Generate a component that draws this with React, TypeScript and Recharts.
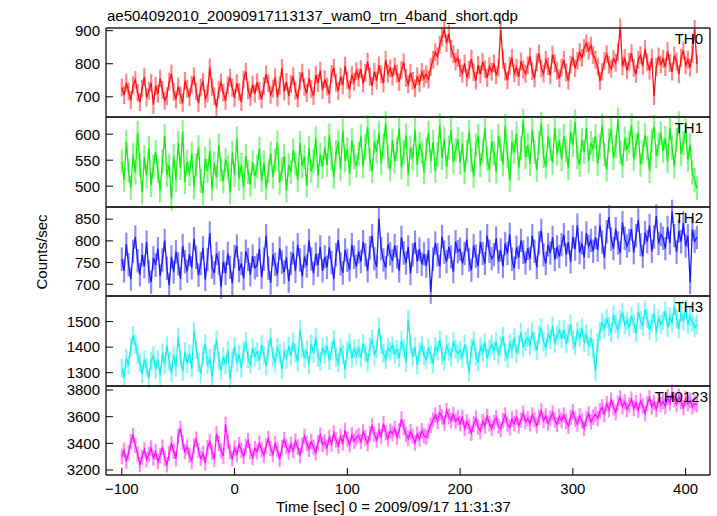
import React from "react";
import { LineChart, Line, XAxis, YAxis, ErrorBar } from "recharts";

// bin centres [sec], one row = 30 s
const times = [
  -100, -98, -96, -94, -92, -90, -88, -86, -84, -82, -80, -78, -76, -74, -72,
  -70, -68, -66, -64, -62, -60, -58, -56, -54, -52, -50, -48, -46, -44, -42,
  -40, -38, -36, -34, -32, -30, -28, -26, -24, -22, -20, -18, -16, -14, -12,
  -10, -8, -6, -4, -2, 0, 2, 4, 6, 8, 10, 12, 14, 16, 18,
  20, 22, 24, 26, 28, 30, 32, 34, 36, 38, 40, 42, 44, 46, 48,
  50, 52, 54, 56, 58, 60, 62, 64, 66, 68, 70, 72, 74, 76, 78,
  80, 82, 84, 86, 88, 90, 92, 94, 96, 98, 100, 102, 104, 106, 108,
  110, 112, 114, 116, 118, 120, 122, 124, 126, 128, 130, 132, 134, 136, 138,
  140, 142, 144, 146, 148, 150, 152, 154, 156, 158, 160, 162, 164, 166, 168,
  170, 172, 174, 176, 178, 180, 182, 184, 186, 188, 190, 192, 194, 196, 198,
  200, 202, 204, 206, 208, 210, 212, 214, 216, 218, 220, 222, 224, 226, 228,
  230, 232, 234, 236, 238, 240, 242, 244, 246, 248, 250, 252, 254, 256, 258,
  260, 262, 264, 266, 268, 270, 272, 274, 276, 278, 280, 282, 284, 286, 288,
  290, 292, 294, 296, 298, 300, 302, 304, 306, 308, 310, 312, 314, 316, 318,
  320, 322, 324, 326, 328, 330, 332, 334, 336, 338, 340, 342, 344, 346, 348,
  350, 352, 354, 356, 358, 360, 362, 364, 366, 368, 370, 372, 374, 376, 378,
  380, 382, 384, 386, 388, 390, 392, 394, 396, 398, 400, 402, 404, 406, 408,
  410,
];

const th0 = [
  728, 705, 742, 716, 690, 735, 751, 712, 684, 725, 760, 698, 718, 742, 676,
  733, 709, 755, 721, 688, 702, 746, 770, 715, 692, 731, 705, 682, 748, 724,
  699, 737, 762, 716, 681, 728, 745, 694, 710, 789, 730, 702, 668, 721, 743,
  712, 688, 735, 758, 727, 696, 741, 715, 684, 752, 776, 720, 699, 737, 710,
  744, 718, 692, 733, 768, 741, 706, 725, 759, 698, 734, 787, 716, 745, 702,
  739, 762, 718, 695, 748, 773, 730, 711, 757, 724, 702, 766, 741, 779, 720,
  753, 731, 707, 769, 788, 742, 718, 761, 735, 794, 750, 722, 766, 745, 778,
  758, 784, 740, 772, 806, 761, 733, 776, 749, 795, 768, 741, 812, 770, 786,
  761, 792, 770, 745, 781, 804, 757, 738, 772, 748, 726, 762, 741, 775, 755,
  768, 752, 790, 812, 835, 822, 858, 880, 905, 862, 891, 845, 828, 806, 818,
  787, 770, 801, 758, 782, 815, 774, 749, 796, 768, 806, 783, 757, 792, 776,
  801, 765, 788, 902, 812, 776, 750, 794, 818, 771, 788, 760, 807, 783, 769,
  795, 822, 778, 756, 804, 831, 786, 770, 812, 793, 765, 828, 801, 779, 756,
  788, 812, 774, 749, 797, 820, 786, 809, 835, 818, 848, 862, 839, 855, 826,
  812, 791, 748, 776, 808, 829, 797, 785, 815, 803, 835, 910, 792, 818, 780,
  806, 832, 788, 769, 812, 826, 793, 845, 804, 779, 818, 702, 790, 822, 798,
  815, 790, 838, 802, 776, 825, 806, 768, 818, 840, 795, 812, 788, 830, 905,
  798,
];

const th1 = [
  548, 512, 585, 530, 497, 561, 526, 603, 541, 488, 556, 519, 574, 502, 538,
  566, 529, 491, 548, 597, 521, 540, 476, 558, 512, 583, 535, 604, 508, 547,
  523, 562, 498, 541, 575, 510, 486, 553, 529, 568, 495, 544, 517, 579, 532,
  509, 551, 536, 488, 564, 522, 592, 514, 541, 497, 558, 527, 503, 546, 519,
  538, 572, 511, 545, 496, 529, 563, 518, 549, 584, 507, 533, 558, 492, 541,
  527, 569, 544, 512, 583, 538, 556, 501, 574, 529, 548, 592, 520, 561, 537,
  574, 541, 598, 553, 518, 566, 585, 532, 607, 549, 571, 524, 588, 556, 539,
  562, 596, 538, 577, 614, 551, 529, 585, 566, 603, 544, 579, 621, 557, 532,
  588, 547, 571, 612, 536, 565, 598, 522, 574, 553, 609, 541, 582, 566, 527,
  571, 603, 548, 585, 529, 562, 617, 554, 591, 537, 574, 608, 546, 569, 591,
  545, 582, 527, 566, 604, 551, 519, 578, 596, 540, 567, 612, 553, 531, 586,
  563, 528, 597, 571, 542, 616, 558, 512, 585, 566, 601, 534, 573, 626, 555,
  579, 543, 608, 566, 531, 584, 620, 558, 537, 596, 571, 545, 612, 563, 588,
  552, 597, 568, 534, 605, 579, 624, 556, 541, 589, 566, 612, 548, 583, 571,
  596, 543, 578, 617, 561, 532, 588, 609, 554, 576, 628, 565, 539, 592, 571,
  584, 617, 552, 579, 603, 541, 566, 598, 573, 529, 588, 614, 557, 581, 602,
  568, 593, 547, 612, 574, 538, 589, 621, 562, 583, 607, 551, 579, 526, 512,
  496,
];

const th2 = [
  758, 731, 792, 745, 712, 776, 809, 754, 722, 768, 741, 797, 729, 705, 761,
  744, 782, 719, 756, 801, 737, 698, 763, 728, 775, 747, 713, 789, 752, 730,
  769, 738, 805, 762, 721, 748, 784, 711, 757, 818, 740, 726, 771, 749, 694,
  752, 725, 771, 739, 702, 764, 788, 731, 748, 713, 776, 757, 722, 765, 738,
  744, 781, 716, 758, 812, 737, 703, 769, 746, 722, 783, 751, 728, 762, 707,
  748, 772, 730, 791, 756, 718, 764, 742, 801, 758, 725, 770, 744, 786, 731,
  763, 739, 785, 750, 712, 768, 802, 747, 726, 779, 755, 733, 791, 762, 741,
  775, 752, 798, 768, 731, 784, 812, 759, 740, 851, 782, 756, 738, 792, 770,
  754, 789, 763, 731, 808, 772, 749, 786, 725, 768, 797, 752, 781, 746, 770,
  742, 779, 682, 758, 795, 768, 741, 810, 774, 752, 786, 763, 729, 798, 775,
  781, 748, 771, 803, 756, 732, 789, 765, 742, 797, 771, 748, 812, 776, 759,
  768, 806, 752, 779, 741, 794, 771, 815, 758, 737, 785, 762, 801, 774, 749,
  783, 759, 812, 776, 739, 795, 824, 768, 748, 791, 772, 808, 757, 786, 764,
  791, 814, 768, 797, 752, 809, 781, 836, 773, 795, 762, 818, 787, 801, 776,
  808, 779, 836, 797, 761, 821, 855, 804, 782, 828, 795, 772, 842, 806, 788,
  801, 827, 773, 812, 848, 791, 764, 819, 798, 835, 776, 809, 857, 794, 815,
  806, 782, 831, 795, 868, 812, 774, 823, 798, 841, 788, 812, 704, 826, 799,
  808,
];

const th3 = [
  1318, 1282, 1356, 1330, 1398, 1445, 1412, 1371, 1338, 1296, 1352, 1321, 1278, 1345, 1368,
  1312, 1351, 1289, 1376, 1332, 1405, 1346, 1298, 1368, 1322, 1440, 1357, 1305, 1383, 1336,
  1374, 1318, 1462, 1392, 1341, 1295, 1368, 1412, 1330, 1356, 1284, 1375, 1428, 1346, 1309,
  1362, 1331, 1387, 1276, 1354, 1402, 1340, 1372, 1318, 1385, 1421, 1355, 1333, 1396, 1364,
  1382, 1348, 1410, 1369, 1327, 1391, 1437, 1362, 1341, 1398, 1375, 1312, 1385, 1352, 1404,
  1366, 1421, 1378, 1342, 1468, 1395, 1357, 1389, 1330, 1412, 1376, 1438, 1360, 1345, 1398,
  1372, 1405, 1348, 1386, 1430, 1361, 1339, 1398, 1371, 1312, 1388, 1415, 1356, 1392, 1367,
  1395, 1358, 1412, 1380, 1341, 1402, 1432, 1369, 1394, 1478, 1410, 1375, 1352, 1398, 1384,
  1408, 1372, 1391, 1358, 1426, 1395, 1340, 1510, 1412, 1362, 1401, 1330, 1381, 1405, 1368,
  1352, 1394, 1371, 1335, 1402, 1386, 1428, 1369, 1346, 1410, 1383, 1362, 1421, 1392, 1375,
  1388, 1356, 1412, 1371, 1302, 1395, 1426, 1364, 1342, 1401, 1379, 1418, 1356, 1392, 1410,
  1385, 1421, 1368, 1404, 1442, 1382, 1356, 1415, 1392, 1436, 1375, 1410, 1458, 1398, 1422,
  1438, 1405, 1462, 1421, 1386, 1448, 1475, 1420, 1398, 1452, 1430, 1482, 1415, 1446, 1468,
  1432, 1468, 1415, 1452, 1490, 1428, 1405, 1461, 1437, 1475, 1418, 1452, 1402, 1436, 1395,
  1305, 1418, 1462, 1495, 1472, 1512, 1481, 1457, 1526, 1492, 1468, 1508, 1535, 1486, 1503,
  1478, 1521, 1492, 1456, 1538, 1505, 1482, 1547, 1512, 1468, 1496, 1531, 1458, 1512, 1489,
  1503, 1542, 1475, 1518, 1496, 1561, 1510, 1472, 1535, 1502, 1548, 1489, 1520, 1498, 1476,
  1488,
];

const th0123 = [
  3302, 3348, 3265, 3330, 3412, 3458, 3385, 3320, 3241, 3296, 3352, 3278, 3318, 3365, 3290,
  3335, 3262, 3308, 3371, 3289, 3240, 3325, 3398, 3341, 3285, 3452, 3512, 3405, 3338, 3372,
  3310, 3265, 3382, 3431, 3346, 3289, 3325, 3252, 3368, 3412, 3335, 3281, 3472, 3398, 3344,
  3305, 3542, 3412, 3338, 3286, 3365, 3318, 3392, 3348, 3302, 3376, 3421, 3341, 3295, 3362,
  3338, 3401, 3352, 3312, 3382, 3437, 3361, 3318, 3396, 3352, 3279, 3368, 3428, 3374, 3335,
  3392, 3345, 3418, 3372, 3308, 3385, 3452, 3398, 3356, 3412, 3372, 3328, 3405, 3462, 3390,
  3412, 3368, 3445, 3396, 3478, 3425, 3381, 3452, 3405, 3498, 3432, 3390, 3465, 3418, 3442,
  3458, 3412, 3486, 3442, 3398, 3472, 3530, 3468, 3425, 3495, 3451, 3548, 3480, 3436, 3492,
  3472, 3512, 3448, 3495, 3582, 3520, 3468, 3436, 3488, 3452, 3405, 3471, 3432, 3495, 3458,
  3445, 3492, 3536, 3575, 3612, 3565, 3630, 3598, 3552, 3645, 3601, 3572, 3618, 3566, 3592,
  3548, 3595, 3512, 3562, 3528, 3476, 3545, 3588, 3521, 3492, 3565, 3532, 3601, 3548, 3512,
  3556, 3592, 3528, 3505, 3571, 3612, 3545, 3518, 3582, 3548, 3598, 3532, 3576, 3625, 3562,
  3585, 3548, 3612, 3576, 3532, 3595, 3642, 3571, 3606, 3552, 3588, 3628, 3575, 3541, 3602,
  3572, 3612, 3565, 3528, 3596, 3638, 3582, 3545, 3606, 3568, 3512, 3585, 3622, 3561, 3595,
  3618, 3586, 3642, 3672, 3615, 3698, 3652, 3725, 3668, 3631, 3702, 3740, 3676, 3712, 3655,
  3688, 3732, 3662, 3705, 3648, 3718, 3681, 3625, 3695, 3742, 3672, 3708, 3655, 3728, 3692,
  3715, 3676, 3748, 3702, 3785, 3728, 3691, 3752, 3712, 3668, 3735, 3698, 3722, 3675, 3702,
  3690,
];

// 1-sigma errors (counts/sec)
const errors = [27, 23, 27, 37, 58];

const xMajor = [-100, 0, 100, 200, 300, 400];
const xMinor = [
  -100, -80, -60, -40, -20, 0, 20, 40, 60, 80, 100, 120, 140, 160, 180, 200,
  220, 240, 260, 280, 300, 320, 340, 360, 380, 400, 420,
];

const th0Major = [700, 800, 900];
const th0Minor = [640, 660, 680, 700, 720, 740, 760, 780, 800, 820, 840, 860, 880, 900];
const th1Major = [500, 550, 600];
const th1Minor = [
  460, 470, 480, 490, 500, 510, 520, 530, 540, 550, 560, 570, 580, 590, 600,
  610, 620, 630,
];
const th2Major = [700, 750, 800, 850];
const th2Minor = [
  680, 690, 700, 710, 720, 730, 740, 750, 760, 770, 780, 790, 800, 810, 820,
  830, 840, 850, 860, 870,
];
const th3Major = [1300, 1400, 1500];
const th3Minor = [
  1260, 1280, 1300, 1320, 1340, 1360, 1380, 1400, 1420, 1440, 1460, 1480,
  1500, 1520, 1540, 1560, 1580, 1600,
];
const th0123Major = [3200, 3400, 3600, 3800];
const th0123Minor = [3200, 3300, 3400, 3500, 3600, 3700, 3800];

const panels = [
  { name: "TH0", values: th0, err: errors[0], color: "#ff1010", domain: [639, 908], major: th0Major, minor: th0Minor },
  { name: "TH1", values: th1, err: errors[1], color: "#10f010", domain: [460, 633], major: th1Major, minor: th1Minor },
  { name: "TH2", values: th2, err: errors[2], color: "#1a1aff", domain: [673, 878], major: th2Major, minor: th2Minor },
  { name: "TH3", values: th3, err: errors[3], color: "#10f0f0", domain: [1248, 1600], major: th3Major, minor: th3Minor },
  { name: "TH0123", values: th0123, err: errors[4], color: "#ff10ff", domain: [3163, 3830], major: th0123Major, minor: th0123Minor },
];

const W = 717;
const H = 516;
const LEFT = 106;
const RIGHT = 710;
const EDGES = [28, 117, 207, 296, 386, 475];
const LABEL_END = [703, 703, 703, 703, 708];
const PAD = 12;
const X_DOMAIN = [-114, 421.6];
const FONT = "'Liberation Sans', Arial, Helvetica, sans-serif";
// axes need a positive size to be drawn; keep it tiny so they all sit on the frame
const THIN = 0.01;

const BIG = 7;
const SMALL = 4;
const lineStyle = { stroke: "#000", strokeWidth: 1 };
const frameStyle = { stroke: "#222", strokeWidth: 1.4 };
const labelStyle = { fill: "#000", fontSize: 15, fontFamily: FONT };
const minus = (v: number) => String(v).replace("-", "\u2212");

function Panel({ p, index }: { p: any; index: number }) {
  const top = EDGES[index];
  const h = EDGES[index + 1] - top;
  const last = index === panels.length - 1;
  const mb = last ? PAD + 30 : PAD;
  const data = times.map((t, i) => ({ t, v: p.values[i], e: p.err }));

  const xCommon = {
    type: "number" as const,
    domain: X_DOMAIN,
    allowDataOverflow: true,
    interval: 0 as const,
    height: THIN,
  };
  const yCommon = {
    type: "number" as const,
    domain: p.domain,
    allowDataOverflow: true,
    interval: 0 as const,
    width: THIN,
  };

  return (
    <div style={{ position: "absolute", left: 0, top: top - PAD }}>
      <LineChart
        width={W}
        height={h + PAD + mb}
        data={data}
        margin={{ top: PAD, bottom: mb, left: LEFT, right: W - RIGHT }}
      >
        <XAxis
          {...xCommon}
          xAxisId="x"
          dataKey="t"
          orientation="bottom"
          ticks={xMajor}
          tickSize={-BIG}
          tickMargin={BIG + 8}
          tick={last ? labelStyle : false}
          tickFormatter={minus}
          axisLine={frameStyle}
          tickLine={lineStyle}
        />
        <XAxis {...xCommon} xAxisId="xm" orientation="bottom" ticks={xMinor} tickSize={-SMALL} tick={false} axisLine={false} tickLine={lineStyle} />
        <XAxis {...xCommon} xAxisId="xt" orientation="top" ticks={xMajor} tickSize={-BIG} tick={false} axisLine={frameStyle} tickLine={lineStyle} />
        <XAxis {...xCommon} xAxisId="xtm" orientation="top" ticks={xMinor} tickSize={-SMALL} tick={false} axisLine={false} tickLine={lineStyle} />
        <YAxis
          {...yCommon}
          yAxisId="y"
          orientation="left"
          ticks={p.major}
          tickSize={-BIG}
          tickMargin={BIG + 6}
          tick={labelStyle}
          axisLine={frameStyle}
          tickLine={lineStyle}
        />
        <YAxis {...yCommon} yAxisId="ym" orientation="left" ticks={p.minor} tickSize={-SMALL} tick={false} axisLine={false} tickLine={lineStyle} />
        <YAxis {...yCommon} yAxisId="yr" orientation="right" ticks={p.major} tickSize={-BIG} tick={false} axisLine={frameStyle} tickLine={lineStyle} />
        <YAxis {...yCommon} yAxisId="yrm" orientation="right" ticks={p.minor} tickSize={-SMALL} tick={false} axisLine={false} tickLine={lineStyle} />
        <Line
          xAxisId="x"
          yAxisId="y"
          dataKey="v"
          type="linear"
          stroke={p.color}
          strokeWidth={1.3}
          dot={false}
          activeDot={false}
          isAnimationActive={false}
        >
          <ErrorBar
            dataKey="e"
            direction="y"
            width={0}
            stroke={p.color}
            strokeOpacity={0.5}
            strokeWidth={2.2}
            isAnimationActive={false}
          />
        </Line>
      </LineChart>
    </div>
  );
}

export default function App() {
  return (
    <div style={{ position: "absolute", left: 0, top: 0, width: W, height: H, background: "#fff", fontFamily: FONT }}>
      {panels.map((p, i) => (
        <Panel key={p.name} p={p} index={i} />
      ))}
      <svg width={W} height={H} style={{ position: "absolute", left: 0, top: 0, pointerEvents: "none" }}>
        <text x={107} y={20.5} fontSize={15} fontFamily={FONT} fill="#000">
          ae504092010_20090917113137_wam0_trn_4band_short.qdp
        </text>
        {panels.map((p, i) => (
          <text key={p.name} x={LABEL_END[i]} y={EDGES[i] + 16} textAnchor="end" fontSize={15} fontFamily={FONT} fill="#000">
            {p.name}
          </text>
        ))}
        <text x={47} y={252} transform="rotate(-90 47 252)" textAnchor="middle" fontSize={15} fontFamily={FONT} fill="#000">
          Counts/sec
        </text>
        <text x={276} y={512} fontSize={15} fontFamily={FONT} fill="#000">
          Time [sec] 0 = 2009/09/17 11:31:37
        </text>
      </svg>
    </div>
  );
}
